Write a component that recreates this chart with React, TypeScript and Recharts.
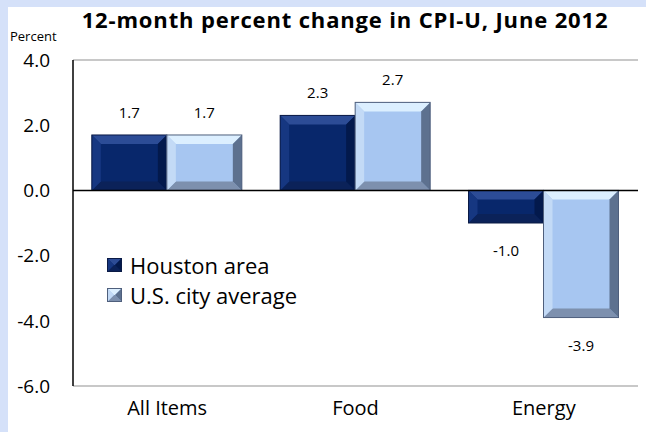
import { Bar, BarChart, LabelList, Legend, ReferenceLine, XAxis, YAxis } from "recharts";

const categories = ["All Items", "Food", "Energy"];
const houston = [1.7, 2.3, -1.0];
const usAverage = [1.7, 2.7, -3.9];
const yTicks = [-6, -4, -2, 0, 2, 4];

const data = categories.map((name, i) => ({ name, houston: houston[i], us: usAverage[i] }));

const FONT = "'Open Sans', Carlito, Calibri, sans-serif";

const palettes = {
  dark: { face: "#08276b", top: "#2c4c96", left: "#163781", right: "#03194c", bottom: "#0b2259", edge: "#0a1a45" },
  light: { face: "#a7c6f1", top: "#dcefff", left: "#c3daf6", right: "#5d718f", bottom: "#7d90ae", edge: "#4f5f7c" },
};

const bevelBar = (pal: typeof palettes.dark) => (props: any) => {
  const { x, y, width, height } = props;
  const x0 = x;
  const x1 = x + width;
  const y0 = Math.min(y, y + height);
  const y1 = Math.max(y, y + height);
  const b = Math.min(9, (y1 - y0) / 2, width / 2);
  return (
    <g>
      <rect x={x0} y={y0} width={width} height={y1 - y0} fill={pal.face} />
      <polygon points={`${x0},${y0} ${x1},${y0} ${x1 - b},${y0 + b} ${x0 + b},${y0 + b}`} fill={pal.top} />
      <polygon points={`${x0},${y1} ${x1},${y1} ${x1 - b},${y1 - b} ${x0 + b},${y1 - b}`} fill={pal.bottom} />
      <polygon points={`${x0},${y0} ${x0 + b},${y0 + b} ${x0 + b},${y1 - b} ${x0},${y1}`} fill={pal.left} />
      <polygon points={`${x1},${y0} ${x1 - b},${y0 + b} ${x1 - b},${y1 - b} ${x1},${y1}`} fill={pal.right} />
      <rect x={x0} y={y0} width={width} height={y1 - y0} fill="none" stroke={pal.edge} strokeWidth={1} />
    </g>
  );
};

const ValueLabel = (props: any) => {
  const { x, y, width, height, value } = props;
  const top = Math.min(y, y + height);
  const bottom = Math.max(y, y + height);
  const cy = value >= 0 ? top - 23 : bottom + 27;
  return (
    <text x={x + width / 2} y={cy} textAnchor="middle" dominantBaseline="central" fontSize={15} fontFamily={FONT} fill="#000">
      {Number(value).toFixed(1)}
    </text>
  );
};

const LegendSwatch = ({ pal }: { pal: typeof palettes.dark }) => (
  <svg width={15} height={14} style={{ marginRight: 8 }}>
    {bevelBar(pal)({ x: 0.5, y: 0.5, width: 14, height: 13 })}
  </svg>
);

const LegendBox = () => (
  <div style={{ fontFamily: FONT, fontSize: 22, color: "#000", lineHeight: "30px" }}>
    <div style={{ display: "flex", alignItems: "center" }}>
      <LegendSwatch pal={palettes.dark} />
      Houston area
    </div>
    <div style={{ display: "flex", alignItems: "center" }}>
      <LegendSwatch pal={palettes.light} />
      U.S. city average
    </div>
  </div>
);

export default function App() {
  return (
    <div style={{ position: "fixed", left: 0, top: 0, width: 646, height: 432, background: "#d5e1f9" }}>
      <div style={{ position: "absolute", left: 8, top: 7, width: 638, height: 425, background: "#fff" }} />
      <div
        style={{
          position: "absolute",
          left: 0,
          width: 690,
          top: 4,
          textAlign: "center",
          fontFamily: FONT,
          fontWeight: 700,
          fontSize: 22,
          letterSpacing: 0.85,
          color: "#000",
        }}
      >
        12-month percent change in CPI-U, June 2012
      </div>
      <div style={{ position: "absolute", left: 10, top: 27, fontFamily: FONT, fontSize: 13, color: "#000" }}>Percent</div>
      <div style={{ position: "absolute", left: 0, top: 0 }}>
        <BarChart
          width={646}
          height={432}
          data={data}
          margin={{ top: 60, right: 8, bottom: 0, left: 0 }}
          barCategoryGap="10%"
          barGap={0}
        >
          <XAxis
            dataKey="name"
            height={46}
            axisLine={{ stroke: "#c8c8c8", strokeWidth: 2 }}
            tickLine={false}
            tickSize={0}
            tickMargin={15}
            tick={{ fontSize: 20, fill: "#000", fontFamily: FONT }}
          />
          <YAxis
            yAxisId="l"
            width={73}
            domain={[-6, 4]}
            ticks={yTicks}
            tickFormatter={(v) => Number(v).toFixed(1)}
            axisLine={{ stroke: "#000", strokeWidth: 1.5 }}
            tickLine={false}
            tickSize={0}
            tickMargin={23}
            tick={{ fontSize: 19, fill: "#000", fontFamily: FONT }}
          />
          <YAxis yAxisId="r" orientation="right" width={0} tick={false} axisLine={{ stroke: "#c8c8c8", strokeWidth: 2 }} />
          <ReferenceLine yAxisId="l" y={4} stroke="#c8c8c8" strokeWidth={2} />
          <Bar yAxisId="l" dataKey="houston" name="Houston area" shape={bevelBar(palettes.dark)} isAnimationActive={false}>
            <LabelList dataKey="houston" content={ValueLabel} />
          </Bar>
          <Bar yAxisId="l" dataKey="us" name="U.S. city average" shape={bevelBar(palettes.light)} isAnimationActive={false}>
            <LabelList dataKey="us" content={ValueLabel} />
          </Bar>
          <ReferenceLine yAxisId="l" y={0} stroke="#000" strokeWidth={1.5} />
          <Legend
            layout="vertical"
            align="center"
            verticalAlign="middle"
            content={() => <LegendBox />}
            wrapperStyle={{ left: 107, top: 250, width: 260 }}
          />
        </BarChart>
      </div>
    </div>
  );
}
